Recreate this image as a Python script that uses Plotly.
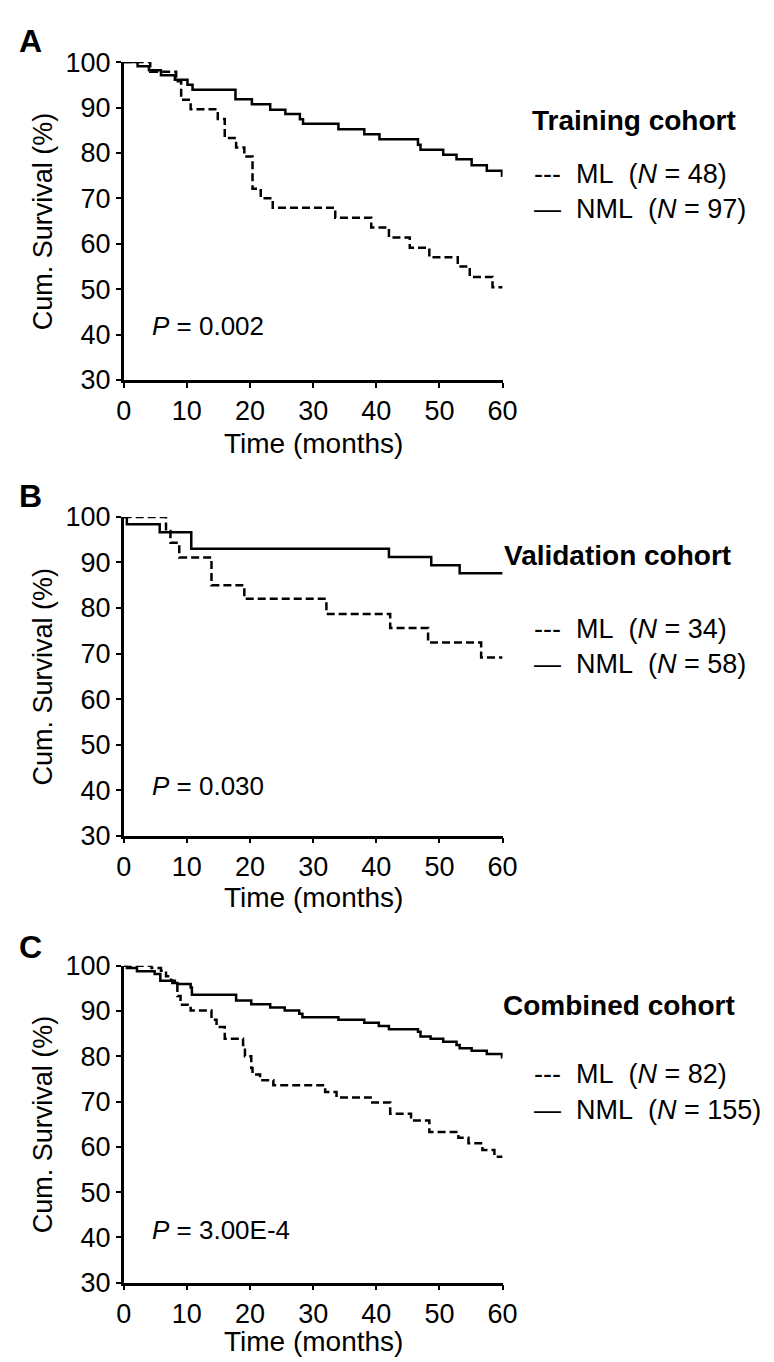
import plotly.graph_objects as go

# ---------------- data ----------------
# Panel A: Training cohort
a_nml_t = [0, 2.2, 4.0, 5.9, 8.1, 10.1, 10.9, 17.7, 20.3, 23.2, 25.6, 27.9, 28.4, 34.0, 38.1, 40.5, 46.6, 47.0, 50.6, 52.7, 55.1, 57.5, 59.9, 60]
a_nml_s = [100, 99.1, 98.2, 97.1, 96.1, 95.0, 93.9, 91.8, 90.7, 89.5, 88.6, 87.4, 86.4, 85.2, 84.1, 83.0, 81.8, 80.7, 79.6, 78.6, 77.3, 76.1, 75.0, 75.0]
a_ml_t = [0, 4.2, 8.3, 9.1, 10.6, 14.9, 16.0, 17.8, 19.1, 20.4, 21.7, 23.6, 33.5, 39.2, 42.0, 45.3, 48.4, 52.9, 54.8, 58.4, 60]
a_ml_s = [100, 97.9, 95.8, 91.7, 89.6, 87.5, 83.3, 81.2, 79.2, 72.1, 70.0, 67.9, 65.7, 63.6, 61.4, 59.1, 57.0, 55.0, 52.7, 50.4, 50.4]

# Panel B: Validation cohort
b_nml_t = [0, 0.5, 5.7, 10.7, 42.0, 48.7, 53.2, 60]
b_nml_s = [100, 98.4, 96.6, 93.0, 91.2, 89.4, 87.6, 87.6]
b_ml_t = [0, 6.7, 7.4, 8.8, 13.9, 19.1, 32.1, 42.2, 48.2, 56.6, 60]
b_ml_s = [100, 96.9, 94.3, 91.1, 85.0, 82.0, 78.7, 75.6, 72.4, 69.1, 69.1]

# Panel C: Combined cohort
c_nml_t = [0, 0.5, 2.1, 4.9, 5.8, 7.7, 8.5, 10.6, 10.8, 17.8, 20.2, 23.2, 25.5, 27.8, 28.3, 34.0, 38.1, 40.4, 42.0, 46.6, 47.0, 48.6, 50.6, 52.7, 53.2, 55.1, 57.5, 59.9, 60]
c_nml_s = [100, 99.5, 98.8, 98.2, 96.7, 96.2, 96.0, 95.2, 93.6, 92.3, 91.5, 90.8, 90.1, 89.4, 88.6, 88.1, 87.4, 86.7, 86.0, 85.4, 84.4, 83.9, 83.2, 82.5, 81.8, 81.2, 80.5, 79.8, 79.8]
c_ml_t = [0, 4.4, 5.9, 6.7, 7.5, 8.1, 8.5, 9.0, 10.6, 13.9, 14.7, 16.0, 18.9, 19.2, 20.2, 20.4, 21.6, 23.7, 31.9, 33.7, 39.1, 42.2, 45.5, 48.4, 53.0, 54.6, 56.8, 58.7, 60]
c_ml_s = [100, 99.5, 98.9, 97.7, 96.7, 96.0, 93.3, 91.4, 90.1, 88.1, 86.5, 83.9, 82.5, 80.0, 77.4, 76.0, 74.7, 73.6, 72.1, 70.9, 69.8, 67.3, 65.8, 63.3, 62.0, 60.8, 59.3, 57.8, 57.8]

panel_letters = ["A", "B", "C"]
panel_titles = ["Training cohort", "Validation cohort", "Combined cohort"]
ml_n = [48, 34, 82]
nml_n = [97, 58, 155]
p_values = ["0.002", "0.030", "3.00E-4"]
x_ticks = [0, 10, 20, 30, 40, 50, 60]
y_ticks = [30, 40, 50, 60, 70, 80, 90, 100]
x_title = "Time (months)"
y_title = "Cum. Survival (%)"

series = [
    (a_ml_t, a_ml_s, a_nml_t, a_nml_s),
    (b_ml_t, b_ml_s, b_nml_t, b_nml_s),
    (c_ml_t, c_ml_s, c_nml_t, c_nml_s),
]

# ---------------- layout helpers ----------------
W, H = 774, 1362
FONT = "Liberation Sans, Arial, Helvetica, sans-serif"


def px(x):
    return x / W


def py(y):
    return 1 - y / H


panels = [
    dict(top=40, bot=365, letter_y=18, title_x=530, title_y=100, ml_y=154, nml_y=190, p_y=310, xt_y=430),
    dict(top=505, bot=831, letter_y=484, title_x=501, title_y=545, ml_y=620, nml_y=655, p_y=780, xt_y=894),
    dict(top=964, bot=1288, letter_y=945, title_x=500, title_y=1005, ml_y=1075, nml_y=1111, p_y=1234, xt_y=1348),
]
X0, X1 = 111, 501.5

fig = go.Figure()
annotations = []
lay = {}

for i, (mlt, mls, nmlt, nmls) in enumerate(series):
    k = "" if i == 0 else str(i + 1)
    xa, ya = "x" + k, "y" + k
    g = panels[i]
    fig.add_trace(go.Scatter(x=mlt, y=mls, mode="lines", line=dict(color="black", width=2.5, dash="8px,4px", shape="hv"),
                             xaxis=xa, yaxis=ya, showlegend=False, name="ML"))
    fig.add_trace(go.Scatter(x=nmlt, y=nmls, mode="lines", line=dict(color="black", width=2.5, shape="hv"),
                             xaxis=xa, yaxis=ya, showlegend=False, name="NML"))
    axis_common = dict(showline=True, linecolor="black", linewidth=2.5, ticks="outside", ticklen=5, tickwidth=2,
                       tickcolor="black", showgrid=False, zeroline=False,
                       tickfont=dict(family=FONT, size=27, color="black"))
    lay["xaxis" + k] = dict(domain=[px(X0), px(X1)], range=[0, 60], tickvals=x_ticks, anchor=ya, **axis_common)
    lay["yaxis" + k] = dict(domain=[py(g["bot"]), py(g["top"])], range=[30, 100], tickvals=y_ticks, anchor=xa, **axis_common)

    annotations += [
        dict(text="<b>%s</b>" % panel_letters[i], x=px(1), y=py(g["letter_y"]), xanchor="left", yanchor="middle",
             font=dict(family=FONT, size=32, color="black")),
        dict(text="<b>%s</b>" % panel_titles[i], x=px(g["title_x"]), y=py(g["title_y"]), xanchor="left", yanchor="middle",
             font=dict(family=FONT, size=28, color="black")),
        dict(text="---\u00a0\u00a0ML\u00a0\u00a0(<i>N</i> = %d)" % ml_n[i], x=px(532), y=py(g["ml_y"]), xanchor="left",
             yanchor="middle", font=dict(family=FONT, size=27, color="black")),
        dict(text="\u2014\u00a0\u00a0NML\u00a0\u00a0(<i>N</i> = %d)" % nml_n[i], x=px(532), y=py(g["nml_y"]), xanchor="left",
             yanchor="middle", font=dict(family=FONT, size=27, color="black")),
        dict(text="<i>P</i> = %s" % p_values[i], x=px(138), y=py(g["p_y"]), xanchor="left", yanchor="middle",
             font=dict(family=FONT, size=26, color="black")),
        dict(text=y_title, textangle=-90, x=px(28), y=py((g["top"] + g["bot"]) / 2), xanchor="center", yanchor="middle",
             font=dict(family=FONT, size=27, color="black")),
        dict(text=x_title, x=px((X0 + X1) / 2), y=py(g["xt_y"]), xanchor="center", yanchor="middle",
             font=dict(family=FONT, size=28, color="black")),
    ]

for a in annotations:
    a.update(xref="paper", yref="paper", showarrow=False)

fig.update_layout(
    width=W, height=H, margin=dict(l=0, r=0, t=0, b=0),
    paper_bgcolor="white", plot_bgcolor="white",
    annotations=annotations, showlegend=False,
    font=dict(family=FONT, color="black"),
    **lay,
)

fig.write_html("out.html")
